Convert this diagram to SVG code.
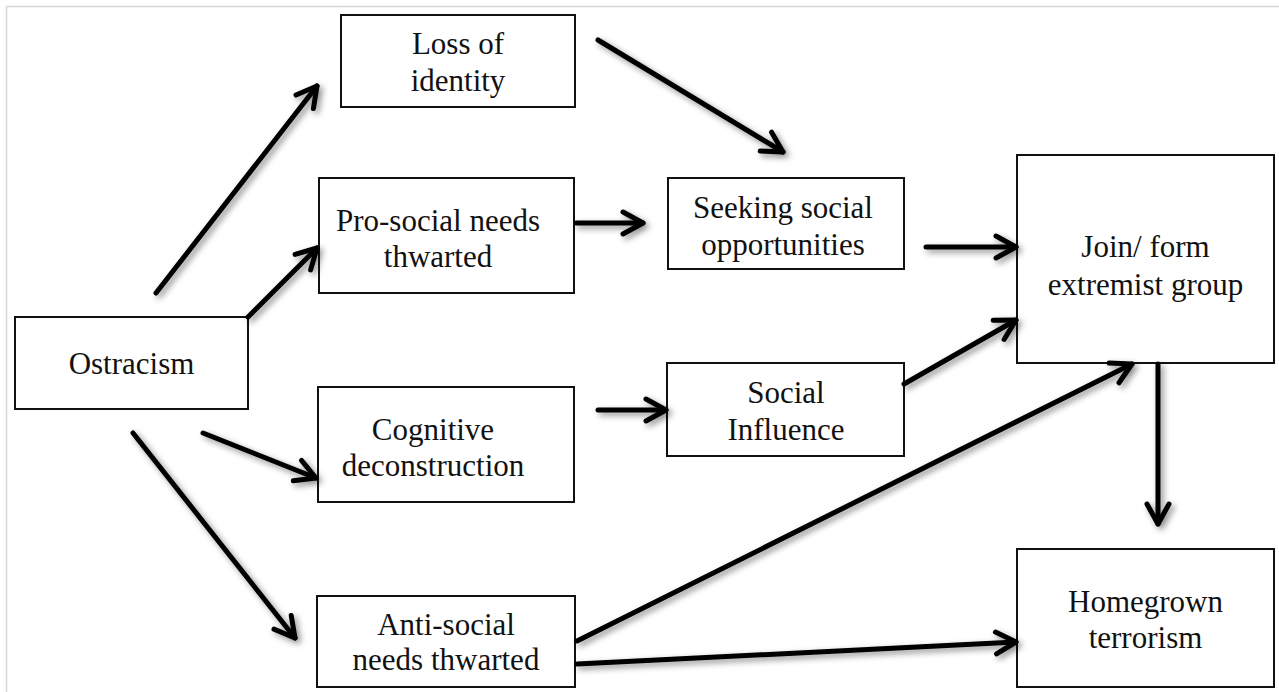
<svg xmlns="http://www.w3.org/2000/svg" width="1279" height="692" viewBox="0 0 1279 692">
  <style>
    .box { fill: #ffffff; stroke: #111111; stroke-width: 2; }
    .lbl { font-family: "Liberation Serif", "Times New Roman", serif; font-size: 31px; fill: #111111; text-anchor: middle; }
    .edge { fill: none; stroke: #000000; stroke-width: 5; stroke-linecap: round; marker-end: url(#chev); }
    .frame { fill: none; stroke: #d3d8d8; stroke-width: 1.5; }
  </style>
  <defs>
    <marker id="chev" markerUnits="userSpaceOnUse" viewBox="-26 -16 30 32" refX="0" refY="0" markerWidth="30" markerHeight="32" orient="auto" overflow="visible">
      <path d="M -20 -11 L 0 0 L -20 11" fill="none" stroke="#000000" stroke-width="5" stroke-linecap="round" stroke-linejoin="round"/>
    </marker>
    <filter id="shade" x="-20%" y="-20%" width="140%" height="140%">
      <feDropShadow dx="3" dy="3" stdDeviation="3" flood-color="#000000" flood-opacity="0.45"/>
    </filter>
  </defs>

  <rect x="0" y="0" width="1279" height="692" fill="#ffffff"/>
  <path class="frame" d="M 6.5 692 L 6.5 6.5 L 1279 6.5"/>

  <g id="ostracism">
    <rect class="box" x="15" y="317" width="233" height="92"/>
    <text class="lbl" x="131.5" y="374">Ostracism</text>
  </g>
  <g id="loss-of-identity">
    <rect class="box" x="341" y="15" width="234" height="92"/>
    <text class="lbl" x="458" y="54">Loss of</text>
    <text class="lbl" x="458" y="91">identity</text>
  </g>
  <g id="pro-social">
    <rect class="box" x="319" y="178" width="255" height="115"/>
    <text class="lbl" x="438" y="231">Pro-social needs</text>
    <text class="lbl" x="438" y="267">thwarted</text>
  </g>
  <g id="cognitive">
    <rect class="box" x="318" y="387" width="256" height="115"/>
    <text class="lbl" x="433" y="440">Cognitive</text>
    <text class="lbl" x="433" y="476">deconstruction</text>
  </g>
  <g id="anti-social">
    <rect class="box" x="317" y="596" width="258" height="91"/>
    <text class="lbl" x="446" y="635">Anti-social</text>
    <text class="lbl" x="446" y="670">needs thwarted</text>
  </g>
  <g id="seeking">
    <rect class="box" x="668" y="178" width="236" height="91"/>
    <text class="lbl" x="783" y="218">Seeking social</text>
    <text class="lbl" x="783" y="255">opportunities</text>
  </g>
  <g id="social-influence">
    <rect class="box" x="667" y="363" width="237" height="93"/>
    <text class="lbl" x="786" y="403">Social</text>
    <text class="lbl" x="786" y="440">Influence</text>
  </g>
  <g id="join-group">
    <rect class="box" x="1017" y="155" width="257" height="208"/>
    <text class="lbl" x="1145.5" y="257">Join/ form</text>
    <text class="lbl" x="1145.5" y="295">extremist group</text>
  </g>
  <g id="homegrown">
    <rect class="box" x="1017" y="549" width="257" height="138"/>
    <text class="lbl" x="1145.5" y="612">Homegrown</text>
    <text class="lbl" x="1145.5" y="648">terrorism</text>
  </g>

  <g id="connectors" filter="url(#shade)">
    <path class="edge" d="M 156 293 L 317 86"/>
    <path class="edge" d="M 598 40 L 783 152"/>
    <path class="edge" d="M 248 317 L 317 248"/>
    <path class="edge" d="M 576 223 L 643 223"/>
    <path class="edge" d="M 926 247 L 1016 247"/>
    <path class="edge" d="M 203 433 L 316 478"/>
    <path class="edge" d="M 598 410 L 666 410"/>
    <path class="edge" d="M 904 384 L 1016 320"/>
    <path class="edge" d="M 133 433 L 295 638"/>
    <path class="edge" d="M 577 641 L 1132 364"/>
    <path class="edge" d="M 577 664 L 1016 642"/>
    <path class="edge" d="M 1158 364 L 1158 524"/>
  </g>
</svg>
